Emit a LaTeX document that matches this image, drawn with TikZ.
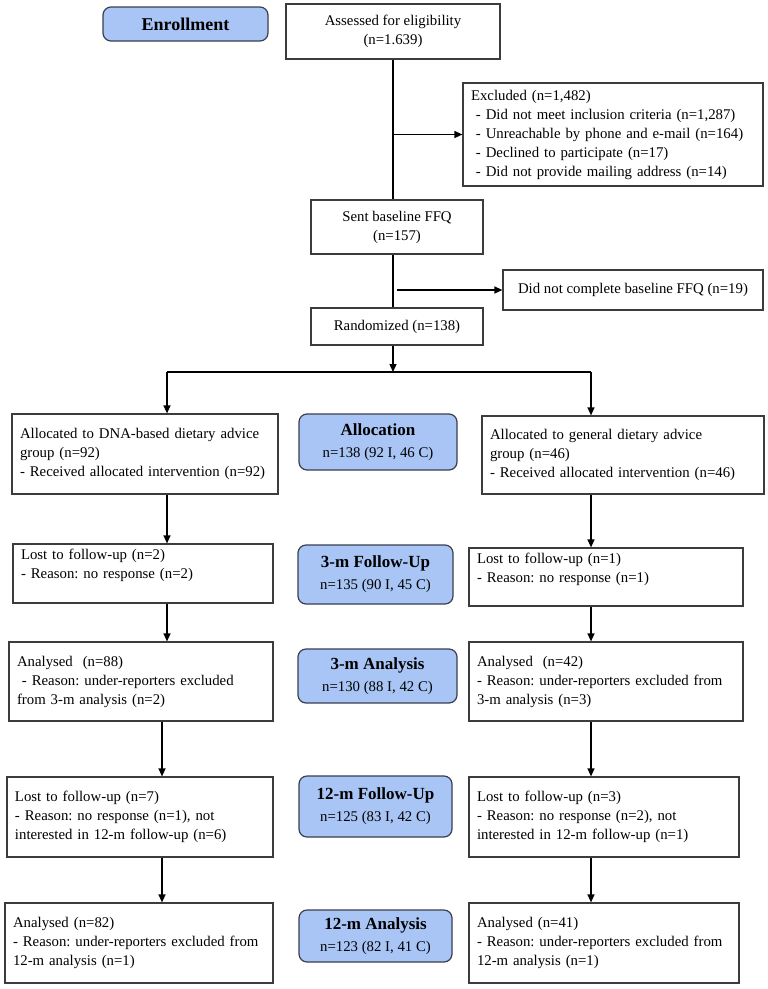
\documentclass[tikz,border=0pt]{standalone}
\usepackage{fontspec}
\setmainfont{Liberation Serif}
\usetikzlibrary{arrows.meta}
\definecolor{phasefill}{RGB}{168,197,245}
\definecolor{phaseline}{RGB}{58,62,78}
\definecolor{boxline}{RGB}{60,60,60}
\tikzset{
  flowbox/.style 2 args={draw=boxline, line width=1.2pt, fill=white, minimum width=#1pt, minimum height=#2pt,
    text width=#1pt-16pt, inner xsep=8pt, inner ysep=0pt, align=left, font=\fontsize{14.8}{19}\selectfont},
  midbox/.style 2 args={draw=boxline, line width=1.2pt, fill=white, minimum width=#1pt, minimum height=#2pt,
    align=center, font=\fontsize{14.8}{19}\selectfont},
  phase/.style 2 args={draw=phaseline, fill=phasefill, line width=1.2pt, rounded corners=8pt,
    minimum width=#1pt, minimum height=#2pt, align=center, font=\fontsize{14.8}{22}\selectfont},
  arr/.style={line width=1.3pt, -{Triangle[length=8pt,width=7pt]}},
  link/.style={line width=1.3pt}
}
\newcommand{\phasetitle}[1]{{\fontsize{17}{22}\selectfont\bfseries #1}}
\frenchspacing

\begin{document}
\begin{tikzpicture}[x=1pt, y=-1pt]
    \useasboundingbox (0,0) rectangle (768,989);

    % enrollment
    \node[phase={165}{34}, font=\fontsize{18}{22}\selectfont\bfseries] (enroll) at (185.5,24) {Enrollment};
    \node[midbox={214}{55}] (assess) at (393,31.5) {Assessed for eligibility\\(n=1.639)};
    \node[flowbox={300}{103}] (excl) at (613,134.5) {Excluded (n=1,482)\\\ - Did not meet inclusion criteria (n=1,287)\\\ - Unreachable by phone and e-mail (n=164)\\\ - Declined to participate (n=17)\\\ - Did not provide mailing address (n=14)};
    \node[midbox={172}{54}] (sent) at (397,227) {Sent baseline FFQ\\(n=157)};
    \node[midbox={260}{40}] (nocomp) at (633,290) {Did not complete baseline FFQ (n=19)};
    \node[midbox={172}{37}] (rand) at (397,326.5) {Randomized (n=138)};

    \coordinate (main) at (393,0);
    \coordinate (split) at (393,372);
    \coordinate (splitL) at (167,372);
    \coordinate (splitR) at (591,372);
    \coordinate (colL) at (162,0);

    % allocation
    \node[flowbox={266}{80}] (dna) at (145,454) {Allocated to DNA-based dietary advice\\group (n=92)\\- Received allocated intervention (n=92)};
    \node[phase={158}{56}] (alloc) at (378,442) {\phasetitle{Allocation}\\n=138 (92 I, 46 C)};
    \node[flowbox={282}{78}] (gen) at (623,455) {Allocated to general dietary advice\\group (n=46)\\- Received allocated intervention (n=46)};

    % 3-m follow-up
    \node[flowbox={260}{59}] (lostL) at (143,573.5) {Lost to follow-up (n=2)\\- Reason: no response (n=2)\\[-6pt]\strut};
    \node[phase={155}{59}] (fu3) at (375.5,574.5) {\phasetitle{3-m Follow-Up}\\n=135 (90 I, 45 C)};
    \node[flowbox={274}{58}] (lostR) at (606,577) {Lost to follow-up (n=1)\\- Reason: no response (n=1)\\[-6pt]\strut};

    % 3-m analysis
    \node[flowbox={264}{79}] (anaL) at (141,681.5) {Analysed\ \ (n=88)\\\ - Reason: under-reporters excluded\\from 3-m analysis (n=2)};
    \node[phase={159}{54}] (an3) at (377.5,676) {\phasetitle{3-m Analysis}\\n=130 (88 I, 42 C)};
    \node[flowbox={274}{79}] (anaR) at (606,681.5) {Analysed\ \ (n=42)\\- Reason: under-reporters excluded from\\3-m analysis (n=3)};

    % 12-m follow-up
    \node[flowbox={266}{80}] (lost12L) at (140,817) {Lost to follow-up (n=7)\\- Reason: no response (n=1), not\\interested in 12-m follow-up (n=6)};
    \node[phase={153}{61}] (fu12) at (375.5,806.5) {\phasetitle{12-m Follow-Up}\\n=125 (83 I, 42 C)};
    \node[flowbox={270}{80}] (lost12R) at (604,817) {Lost to follow-up (n=3)\\- Reason: no response (n=2), not\\interested in 12-m follow-up (n=1)};

    % 12-m analysis
    \node[flowbox={268}{80}] (ana12L) at (139,943) {Analysed (n=82)\\- Reason: under-reporters excluded from\\12-m analysis (n=1)};
    \node[phase={153}{52}] (an12) at (375.5,936) {\phasetitle{12-m Analysis}\\n=123 (82 I, 41 C)};
    \node[flowbox={270}{80}] (ana12R) at (604,943) {Analysed (n=41)\\- Reason: under-reporters excluded from\\12-m analysis (n=1)};

    \draw[link] (assess.south -| main) -- (sent.north -| main);
    \draw[arr] (excl.west -| main) -- (excl.west);
    \draw[link] (sent.south -| main) -- (rand.north -| main);
    \draw[arr] (nocomp.west -| sent) -- (nocomp.west);
    \draw[arr] (rand.south -| main) -- (split);
    \draw[link] (splitL) -- (splitR);
    \draw[arr] (splitL) -- (splitL |- dna.north);
    \draw[arr] (splitR) -- (splitR |- gen.north);

    \draw[arr] (dna.south -| splitL) -- (lostL.north -| splitL);
    \draw[arr] (lostL.south -| splitL) -- (anaL.north -| splitL);
    \draw[arr] (anaL.south -| colL) -- (lost12L.north -| colL);
    \draw[arr] (lost12L.south -| colL) -- (ana12L.north -| colL);

    \draw[arr] (gen.south -| splitR) -- (lostR.north -| splitR);
    \draw[arr] (lostR.south -| splitR) -- (anaR.north -| splitR);
    \draw[arr] (anaR.south -| splitR) -- (lost12R.north -| splitR);
    \draw[arr] (lost12R.south -| splitR) -- (ana12R.north -| splitR);
\end{tikzpicture}
\end{document}
